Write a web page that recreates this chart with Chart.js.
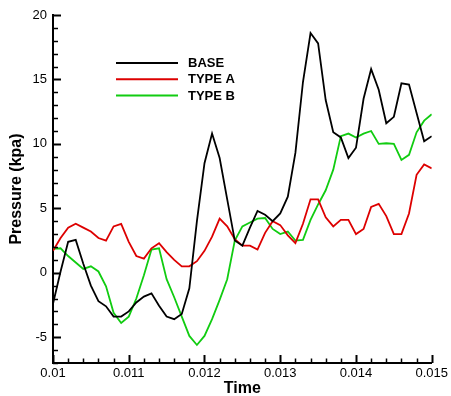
<!DOCTYPE html>
<html>
<head>
<meta charset="utf-8">
<script src="https://cdn.jsdelivr.net/npm/chart.js@4.4.1/dist/chart.umd.min.js"></script>
<style>
html,body{margin:0;padding:0;background:#fff;}
#c{display:block;}
</style>
</head>
<body>
<canvas id="c" width="451" height="396"></canvas>
<script>
const time = [0.0100,0.0101,0.0102,0.0103,0.0104,0.0105,0.0106,0.0107,0.0108,0.0109,
              0.0110,0.0111,0.0112,0.0113,0.0114,0.0115,0.0116,0.0117,0.0118,0.0119,
              0.0120,0.0121,0.0122,0.0123,0.0124,0.0125,0.0126,0.0127,0.0128,0.0129,
              0.0130,0.0131,0.0132,0.0133,0.0134,0.0135,0.0136,0.0137,0.0138,0.0139,
              0.0140,0.0141,0.0142,0.0143,0.0144,0.0145,0.0146,0.0147,0.0148,0.0149,0.0150];
const base = [-2.4,0.1,2.4,2.55,0.7,-1.0,-2.2,-2.6,-3.4,-3.4,
              -3.0,-2.3,-1.85,-1.6,-2.55,-3.4,-3.6,-3.2,-1.2,4.0,
              8.5,10.8,8.9,5.7,2.5,2.1,3.5,4.8,4.5,4.0,
              4.6,5.9,9.3,14.8,18.6,17.8,13.4,10.9,10.5,8.9,
              9.7,13.5,15.8,14.2,11.6,12.1,14.7,14.6,12.4,10.2,10.6];
const typeA = [1.7,2.7,3.5,3.8,3.5,3.2,2.7,2.5,3.6,3.8,
               2.4,1.3,1.1,1.9,2.3,1.6,1.0,0.5,0.5,0.9,
               1.7,2.8,4.2,3.6,2.6,2.1,2.1,1.8,3.1,4.0,
               3.7,2.9,2.3,3.8,5.7,5.7,4.3,3.6,4.1,4.1,
               3.0,3.4,5.1,5.35,4.4,3.0,3.0,4.6,7.6,8.4,8.1];
const typeB = [1.85,1.9,1.3,0.8,0.3,0.5,0.1,-1.05,-3.1,-3.9,
               -3.4,-2.0,-0.2,1.8,1.9,-0.5,-1.9,-3.4,-4.9,-5.6,
               -4.9,-3.6,-2.1,-0.5,2.5,3.6,3.9,4.2,4.25,3.4,
               3.0,3.2,2.5,2.55,4.1,5.3,6.4,8.0,10.6,10.8,
               10.5,10.8,11.0,10.0,10.05,10.0,8.75,9.15,10.9,11.8,12.3];
const seriesNames = ['BASE','TYPE A','TYPE B'];
const xTickValues = [0.010,0.011,0.012,0.013,0.014,0.015];
const xTickLabels = ['0.01','0.011','0.012','0.013','0.014','0.015'];
const yTickValues = [-5,0,5,10,15,20];
const yTickLabels = ['-5','0','5','10','15','20'];
const xTitle = 'Time';
const yTitle = 'Pressure (kpa)';

const colors = ['#000000','#dd0000','#11cc11'];
const FONT = "'Liberation Sans', Arial, Helvetica, sans-serif";

function pts(vals){ return vals.map((v,i)=>({x:time[i], y:v})); }

const decor = {
  id:'decor',
  afterDraw(chart){
    const {ctx, chartArea:{left,right,top,bottom}, scales:{x,y}} = chart;
    ctx.save();
    ctx.strokeStyle = '#000';
    ctx.lineCap = 'butt';
    const xMin = x.min, xMax = x.max, xMinor = 0.0002;
    const nx = Math.round((xMax - xMin)/xMinor);
    for (let i=0;i<=nx;i++){
      const v = xMin + i*xMinor;
      const px = Math.round(x.getPixelForValue(v)) + 0.5;
      const major = i % 5 === 0;
      ctx.lineWidth = major ? 2 : 1.5;
      ctx.beginPath(); ctx.moveTo(px, bottom); ctx.lineTo(px, bottom - (major ? 8 : 4.5)); ctx.stroke();
    }
    for (let v=Math.ceil(y.min); v<=y.max; v++){
      const py = Math.round(y.getPixelForValue(v)) + 0.5;
      const major = v % 5 === 0;
      ctx.lineWidth = major ? 2 : 1.5;
      ctx.beginPath(); ctx.moveTo(left, py); ctx.lineTo(left + (major ? 8 : 5), py); ctx.stroke();
    }
    ctx.fillStyle = '#000';
    ctx.font = 'bold 16px ' + FONT;
    ctx.textAlign = 'center'; ctx.textBaseline = 'middle';
    ctx.fillText(xTitle, (left+right)/2, 389);
    ctx.save();
    ctx.translate(17, (top+bottom)/2);
    ctx.rotate(-Math.PI/2);
    ctx.fillText(yTitle, 0, 0);
    ctx.restore();
    ctx.font = 'bold 13px ' + FONT;
    ctx.textAlign = 'left';
    chart.data.datasets.forEach((ds, i) => {
      const ly = 63 + i*16.3;
      ctx.strokeStyle = ds.borderColor; ctx.lineWidth = 2;
      ctx.beginPath(); ctx.moveTo(116, ly); ctx.lineTo(178, ly); ctx.stroke();
      ctx.fillStyle = '#000';
      ctx.fillText(ds.label, 188, ly + 0.5);
    });
    ctx.restore();
  }
};

new Chart(document.getElementById('c'), {
  type: 'line',
  data: {
    datasets: [base, typeA, typeB].map((vals, i) => ({
      label: seriesNames[i],
      data: pts(vals),
      borderColor: colors[i],
      backgroundColor: colors[i],
      borderWidth: 1.8,
      pointRadius: 0,
      tension: 0,
      fill: false
    }))
  },
  options: {
    responsive: false,
    animation: false,
    devicePixelRatio: 1,
    layout: { padding: { left: 0, right: 16, top: 15, bottom: 0 } },
    plugins: { legend: { display: false }, tooltip: { enabled: false } },
    scales: {
      x: {
        type: 'linear', min: 0.01, max: 0.015,
        grid: { display: false, drawTicks: false },
        border: { display: true, color: '#000', width: 2 },
        afterBuildTicks(s){ s.ticks = xTickValues.map(v => ({value: v})); },
        afterFit(s){ s.height = 33; },
        ticks: {
          color: '#000', padding: 3, maxRotation: 0, autoSkip: false,
          font: { family: FONT, size: 13 },
          callback(v){ const i = xTickValues.findIndex(t => Math.abs(t - v) < 1e-9); return i >= 0 ? xTickLabels[i] : ''; }
        }
      },
      y: {
        type: 'linear', min: -7, max: 20,
        grid: { display: false, drawTicks: false },
        border: { display: true, color: '#000', width: 2 },
        afterBuildTicks(s){ s.ticks = yTickValues.map(v => ({value: v})); },
        afterFit(s){ s.width = 53; },
        ticks: {
          color: '#000', padding: 6, autoSkip: false,
          font: { family: FONT, size: 13 },
          callback(v){ const i = yTickValues.indexOf(v); return i >= 0 ? yTickLabels[i] : ''; }
        }
      }
    }
  },
  plugins: [decor]
});
</script>
</body>
</html>
